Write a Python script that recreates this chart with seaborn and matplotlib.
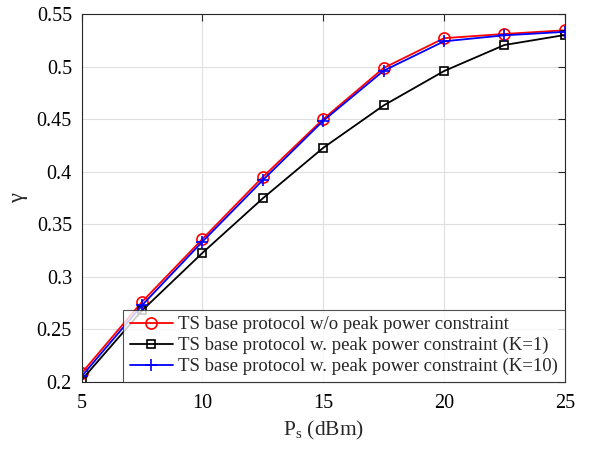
import numpy as np
import pandas as pd
import seaborn as sns
import matplotlib
matplotlib.use("Agg")
import matplotlib.pyplot as plt

# data
ps_dbm = [5, 7.5, 10, 12.5, 15, 17.5, 20, 22.5, 25]
gamma_no_peak = [0.2085, 0.2763, 0.336, 0.395, 0.450, 0.4986, 0.527, 0.531, 0.5345]
gamma_k1 = [0.202, 0.268, 0.3228, 0.3747, 0.4227, 0.463, 0.4957, 0.5205, 0.530]
gamma_k10 = [0.2054, 0.273, 0.3335, 0.392, 0.4484, 0.496, 0.524, 0.5297, 0.533]

labels = [
    "TS base protocol w/o peak power constraint",
    "TS base protocol w. peak power constraint (K=1)",
    "TS base protocol w. peak power constraint (K=10)",
]

df = pd.DataFrame({
    "Ps": ps_dbm * 3,
    "gamma": gamma_no_peak + gamma_k1 + gamma_k10,
    "curve": [labels[0]] * 9 + [labels[1]] * 9 + [labels[2]] * 9,
})

sns.set_style("whitegrid")
plt.rcParams['font.family'] = ['Liberation Serif', 'DejaVu Serif']
plt.rcParams['mathtext.fontset'] = 'custom'
plt.rcParams['mathtext.rm'] = 'Liberation Serif'
plt.rcParams['mathtext.it'] = 'Liberation Serif:italic'

fig = plt.figure(figsize=(5.92, 4.54), dpi=100)
ax = fig.add_axes([0.138, 0.1586, 0.816, 0.8106])

colors = ["#ff0000", "#000000", "#0000ff"]
markers = ["o", "s", "+"]
msizes = [8, 6, 8]
for lab, c, m, ms in zip(labels, colors, markers, msizes):
    sub = df[df["curve"] == lab]
    sns.lineplot(data=sub, x="Ps", y="gamma", ax=ax, color=c, marker=m,
                 markersize=ms, markerfacecolor="none", markeredgecolor=c,
                 markeredgewidth=1.2, linewidth=1.3, label=lab)

ax.set_xlim(5, 25)
ax.set_ylim(0.2, 0.55)
ax.set_xticks([5, 10, 15, 20, 25])
ax.set_yticks([0.2, 0.25, 0.3, 0.35, 0.4, 0.45, 0.5, 0.55])
ax.set_yticklabels(["0.2", "0.25", "0.3", "0.35", "0.4", "0.45", "0.5", "0.55"])
ax.tick_params(axis="both", direction="in", length=5, width=0.8, labelsize=14.5,
               top=True, right=True, colors="#262626", labelcolor="black")
ax.tick_params(axis="x", pad=9)
ax.tick_params(axis="y", pad=7)
ax.grid(True, color="#dfdfdf", linewidth=0.8)
for s in ax.spines.values():
    s.set_color("#262626")
    s.set_linewidth(0.8)

ax.set_xlabel(r"P$_{\mathrm{s}}$ (dBm)", fontsize=15.5, labelpad=4)
ax.set_ylabel("γ", fontsize=16, labelpad=6)

leg = ax.legend(loc="lower right", borderaxespad=0, fontsize=13.5, frameon=True,
                fancybox=False, handlelength=2.3, handletextpad=0.3,
                borderpad=0.35, labelspacing=0.2)
leg.get_frame().set_edgecolor("#262626")
leg.get_frame().set_linewidth(0.8)

fig.savefig("out.png", dpi=100)
